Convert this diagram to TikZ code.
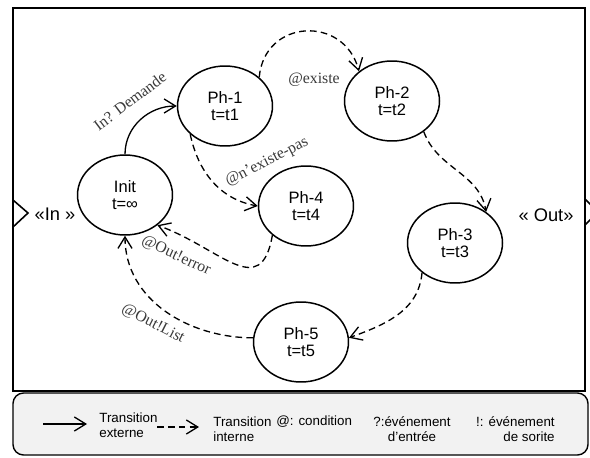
\documentclass[tikz,border=0pt]{standalone}
\usepackage{fontspec}
\setmainfont{Liberation Sans}
\newfontfamily\labelfont{Liberation Serif}
\usetikzlibrary{arrows.meta,positioning,shapes.geometric}
\definecolor{LegendFill}{HTML}{F2F2F2}
\definecolor{LabelGrey}{HTML}{3A3A3A}
\begin{document}
\begin{tikzpicture}[x=0.02cm,y=0.02cm,
    phase/.style={ellipse,draw,line width=0.85pt,minimum width=1.9cm,minimum height=1.6cm,
      inner sep=0pt,align=center,font=\fontsize{9.4}{10}\selectfont},
    ext/.style={line width=0.75pt,-{Straight Barb[length=6.5pt,width=8pt]}},
    int/.style={ext,dash pattern=on 3.8pt off 2.4pt},
    lbl/.style={font=\labelfont\fontsize{9}{10}\selectfont,text=LabelGrey,inner sep=1pt},
    lgd/.style={font=\fontsize{7.6}{8.5}\selectfont,inner sep=0pt},
    port/.style={font=\fontsize{10.4}{12}\selectfont,inner sep=0pt}]
  \useasboundingbox (0,0) rectangle (590,457);
  \clip (0,0) rectangle (590,457);
  \draw[line width=1pt] (13,66) rectangle (585,449);
  \draw[line width=0.8pt,fill=LegendFill,rounded corners=6pt] (13,2) rectangle (588,64);

  \node[phase] (init) at (125,262) {Init\\t=∞};
  \node[phase] (ph1) at (225,351) {Ph-1\\t=t1};
  \node[phase] (ph2) at (392,356) {Ph-2\\t=t2};
  \node[phase] (ph4) at (306,251) {Ph-4\\t=t4};
  \node[phase] (ph3) at (455,214) {Ph-3\\t=t3};
  \node[phase] (ph5) at (301,115) {Ph-5\\t=t5};

  \draw[ext] (init.north) to[out=90,in=180] (ph1.180);
  \draw[int] (ph1.40) to[out=85,in=105,looseness=1.5] (ph2.138);
  \draw[int] (ph1.219) to[out=-78,in=170] (ph4.180);
  \draw[int] (ph2.-44) to[out=-70,in=100] (ph3.45);
  \draw[int] (ph3.222) to[out=-95,in=20] (ph5.5);
  \draw[int] (ph5.175) to[out=180,in=-90] (init.south);
  \draw[int] (ph4.221) to[out=-100,in=-20,looseness=1.5] (init.-43);

  \node[lbl,rotate=37] (lblreq) at (130,356) {In? Demande};
  \node[lbl] (lblok) at (314,377) {@existe};
  \node[lbl,rotate=27] (lblnok) at (267,295) {@n’existe-pas};
  \node[lbl,rotate=-25] (lblerr) at (176,201) {@Out!error};
  \node[lbl,rotate=-27] (lbllist) at (153,133) {@Out!List};

  \draw[line width=0.9pt,fill=white] (13,257) -- (28,244) -- (13,230) -- cycle;
  \node[port] (pin) at (55,243) {«In »};
  \node[port] (pout) at (546,242) {« Out»};
  \draw[line width=0.9pt,fill=white] (585,258) -- (598,245) -- (585,232) -- cycle;

  \coordinate (extA) at (43,33);
  \coordinate (extB) at (87,33);
  \coordinate (intA) at (157,30);
  \coordinate (intB) at (199,30);
  \draw[ext] (extA) -- (extB);
  \draw[int] (intA) -- (intB);
  \node[lgd,anchor=west,align=left] (lgdext) at (99,32) {Transition\\externe};
  \node[lgd,anchor=west,align=left] (lgdint) at (213,27.5) {Transition\\interne};
  \node[lgd,anchor=west] (lgdcond) at (276,35) {@: condition};
  \node[lgd,align=center] (lgdin) at (412,27.5) {?:événement\\d'entrée};
  \node[lgd,anchor=east,align=right] (lgdout) at (555,27.5) {!: événement\\de sorite};
\end{tikzpicture}
\end{document}
